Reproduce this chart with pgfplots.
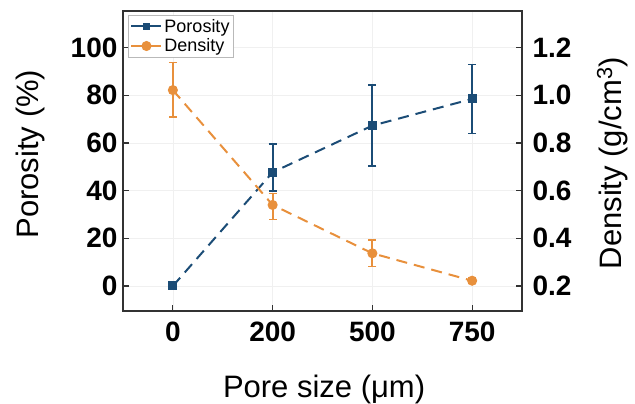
\documentclass[border=0pt]{standalone}
\usepackage{pgfplots}
\pgfplotsset{compat=1.18}
\usepackage{fontspec}
\setmainfont{Liberation Sans}
\definecolor{cblue}{RGB}{27,76,118}
\definecolor{corange}{RGB}{232,144,60}
\definecolor{axgray}{RGB}{50,50,50}
\begin{document}
\begin{tikzpicture}
\pgfplotsset{
  common/.style={
    at={(0pt,0pt)}, anchor=south west,
    scale only axis, width=399pt, height=300pt,
    xmin=-0.5, xmax=3.5,
    tick align=inside,
    major tick length=6pt,
    axis line style={axgray, line width=1.2pt},
    every tick/.style={axgray, line width=1.2pt},
    /pgf/number format/assume math mode=true,
    ticklabel style={font=\fontsize{28}{30}\selectfont\bfseries},
    label style={font=\fontsize{31}{34}\selectfont},
  },
  porstyle/.style={cblue, line width=2pt, dash pattern=on 11pt off 7pt, mark=square*, mark size=3.5pt, mark options={solid}},
  denstyle/.style={corange, line width=2pt, dash pattern=on 11pt off 7pt, mark=*, mark size=4pt, mark options={solid}},
}
\begin{axis}[common,
  ymin=-10.5, ymax=115.4,
  ytick={0,20,40,60,80,100},
  xtick={0,1,2,3}, xticklabels={0,200,500,750},
  xtick pos=bottom, ytick pos=left,
  grid=major, major grid style={gray!12, line width=0.6pt},
  xticklabel style={yshift=-7pt},
  yticklabel style={xshift=-2pt},
  ylabel={Porosity (\%)},
  ylabel style={at={(axis description cs:-0.233,0.523)}, anchor=center, rotate=0},
  xlabel={Pore size (μm)},
  xlabel style={at={(axis description cs:0.504,-0.263)}, anchor=center},
]
\addplot[porstyle, error bars/.cd, y dir=both, y explicit,
  error bar style={solid, line width=1.8pt},
  error mark options={rotate=90, mark size=4pt, line width=1.5pt, solid}]
  coordinates {
  (0,0) +- (0,0)
  (1,47.7) += (0,11.9) -= (0,7.8)
  (2,67.3) += (0,17.0) -= (0,16.9)
  (3,78.5) += (0,14.5) -= (0,14.5)
  };
\end{axis}
\begin{axis}[common,
  axis x line=none,
  axis y line*=right,
  ymin=0.095, ymax=1.354,
  ytick={0.2,0.4,0.6,0.8,1.0,1.2},
  yticklabel style={xshift=7pt, /pgf/number format/.cd, fixed, fixed zerofill, precision=1},
  ylabel={Density (g/cm\textsuperscript{3})},
  ylabel style={at={(axis description cs:1.226,0.493)}, anchor=center},
  legend style={at={(axis description cs:0.013,0.987)}, anchor=north west,
    font=\fontsize{18}{21}\selectfont, draw=gray!55, line width=0.6pt,
    inner xsep=2pt, inner ysep=2pt, row sep=1pt},
  legend cell align=left,
  legend image post style={solid},
  legend image code/.code={
    \draw[#1, solid] (0pt,0pt) -- (30pt,0pt);
    \draw[#1, solid, only marks] plot coordinates {(15pt,0pt)};
  },
]
\addlegendimage{porstyle, mark size=2.8pt}
\addlegendentry{Porosity}
\addplot[denstyle, error bars/.cd, y dir=both, y explicit,
  error bar style={solid, line width=1.8pt},
  error mark options={rotate=90, mark size=4pt, line width=1.5pt, solid}]
  coordinates {
  (0,1.022) += (0,0.115) -= (0,0.112)
  (1,0.540) += (0,0.049) -= (0,0.060)
  (2,0.337) += (0,0.056) -= (0,0.056)
  (3,0.222) += (0,0.012) -= (0,0.012)
  };
\addlegendentry{Density}
\end{axis}
\pgfresetboundingbox
\useasboundingbox (-123pt,-93pt) rectangle (512pt,311pt);
\end{tikzpicture}
\end{document}
